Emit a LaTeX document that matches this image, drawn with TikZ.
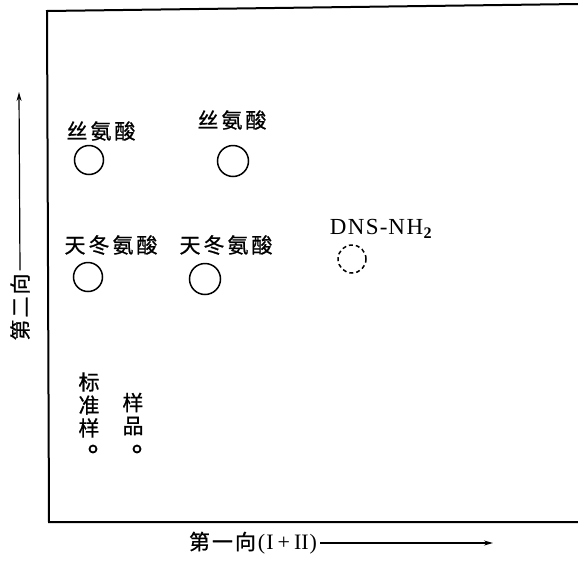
\documentclass[tikz,border=0pt]{standalone}
\usepackage{fontspec}
\setmainfont{Liberation Serif}
\newfontfamily\cjk[FakeBold=0.8]{Noto Sans CJK SC}
\usetikzlibrary{arrows.meta}
\begin{document}
\begin{tikzpicture}[x=1pt,y=-1pt,
  lab/.style={font=\cjk\fontsize{21}{23}\selectfont, inner sep=0pt, align=center},
  spot/.style={draw, circle, minimum size=29pt, inner sep=0pt, line width=1.5pt},
  dspot/.style={spot, dashed, dash pattern=on 4pt off 3pt, minimum size=28pt},
  origin/.style={draw, circle, minimum size=7pt, inner sep=0pt, line width=1.8pt},
  frame/.style={line width=2pt},
  axis/.style={line width=1.2pt, -{Stealth[length=9pt,width=5pt]}}]
\useasboundingbox (0,0) rectangle (578,568);
% frame (open at right)
\coordinate (tr) at (578,4);
\coordinate (tl) at (47,11);
\coordinate (bl) at (49,522);
\coordinate (br) at (578,522);
\draw[frame] (tr) -- (tl) -- (bl) -- (br);
% spots and labels
\node[lab] (sl) at (101,131) {丝\kern3pt氨\kern3pt酸};
\node[spot] (csl) at (89,160) {};
\node[lab] (sr) at (232,120) {丝\kern3pt氨\kern3pt酸};
\node[spot, minimum size=31pt] (csr) at (233,161) {};
\node[lab] (al) at (111,245) {天\kern3pt冬\kern3pt氨\kern3pt酸};
\node[spot] (cal) at (88,277) {};
\node[lab] (ar) at (226,245) {天\kern3pt冬\kern3pt氨\kern3pt酸};
\node[spot, minimum size=31pt] (car) at (205,279) {};
\node[font=\fontsize{23}{23}\selectfont, inner sep=0pt] (dns) at (381,229) {D\kern1.5ptN\kern1.5ptS\kern1pt-\kern1ptN\kern1.5ptH\kern0.5pt$_{\mathbf{2}}$};
\node[dspot] (cdns) at (352,259) {};
% origins
\node[lab] (std) at (89,405) {标\\准\\样};
\node[lab] (smp) at (133,414) {样\\品};
\node[origin] (ostd) at (93,449) {};
\node[origin] (osmp) at (137,449) {};
% axes
\node[lab, rotate=90] (ylab) at (20,307) {第\kern2pt二\kern2pt向};
\coordinate (ytop) at (19,92);
\draw[axis] (ylab.east) ++(0,-3) -- (ytop);
\node[lab, inner sep=0pt] (xlab) at (253,543) {第\kern2pt一\kern2pt向{\rmfamily\fontsize{22}{22}\selectfont\kern2pt(\kern1pt I\kern4pt+\kern4pt II\kern1pt)}};
\coordinate (xend) at (493,543);
\draw[axis] (xlab.east) ++(3,0) -- (xend);
\end{tikzpicture}
\end{document}
